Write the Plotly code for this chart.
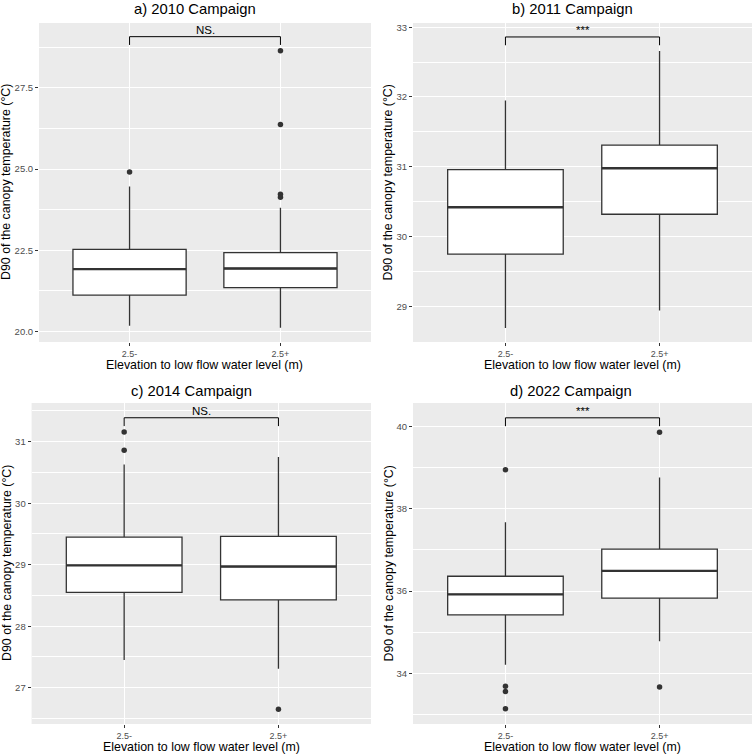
import plotly.graph_objects as go

# values
campaigns = ["a) 2010 Campaign", "b) 2011 Campaign", "c) 2014 Campaign", "d) 2022 Campaign"]
groups = ["2.5-", "2.5+"]

lower_whisker = [[20.18, 20.12], [28.69, 28.94], [27.45, 27.31], [34.21, 34.78]]
q1 = [[21.12, 21.35], [29.75, 30.32], [28.55, 28.43], [35.42, 35.83]]
median = [[21.92, 21.94], [30.42, 30.98], [28.99, 28.97], [35.92, 36.49]]
q3 = [[22.53, 22.43], [30.96, 31.31], [29.45, 29.46], [36.36, 37.02]]
upper_whisker = [[24.46, 23.81], [31.95, 32.66], [30.63, 30.75], [37.67, 38.76]]

outliers = [
    [[24.91], [28.64, 26.37, 24.22, 24.13]],
    [[], []],
    [[31.16, 30.86], [26.65]],
    [[38.95, 33.69, 33.56, 33.14], [39.86, 33.67]],
]

signif = ["NS.", "***", "NS.", "***"]
bracket_y = [29.07, 32.86, 31.39, 40.21]

y_ranges = [[19.68, 29.49], [28.49, 33.06], [26.41, 31.63], [32.77, 40.57]]
y_dtick = [2.5, 1, 1, 2]
y_fmt = [".1f", "d", "d", "d"]

ytitle = "D90 of the canopy temperature (°C)"
xtitle = "Elevation to low flow water level (m)"

#####################

W, H = 753, 754
FONT = "Liberation Sans, Arial, sans-serif"
DARK = "#333333"

# panel boxes in pixels: x0, x1, y0(top), y1(bottom)
panels = [(39, 371, 23, 342), (413, 752, 23, 342), (31.6, 371, 403, 724), (413, 752, 403, 724)]
title_pos = [(195, 8.5), (572, 8.5), (191, 390.5), (571, 390.5)]
ytitle_x = [6.5, 388, 6.5, 388]
xtitle_y = [365, 365, 746.5, 746.5]

def px(x):
    return x / W

def py(y):
    return 1 - y / H

fig = go.Figure()
annotations = []
cats = [1, 2]
bw = 0.75

for i in range(4):
    n = i + 1
    xa = "x" if n == 1 else "x%d" % n
    ya = "y" if n == 1 else "y%d" % n
    x0, x1, t0, t1 = panels[i]

    for j, c in enumerate(cats):
        fig.add_trace(go.Box(
            x=[c], q1=[q1[i][j]], median=[median[i][j]], q3=[q3[i][j]],
            lowerfence=[lower_whisker[i][j]], upperfence=[upper_whisker[i][j]],
            width=bw, whiskerwidth=0, fillcolor="white", line=dict(color=DARK, width=1.3),
            boxpoints=False, showlegend=False, xaxis=xa, yaxis=ya))
        # thicker median like ggplot
        fig.add_trace(go.Scatter(
            x=[c - bw / 2, c + bw / 2], y=[median[i][j], median[i][j]], mode="lines",
            line=dict(color=DARK, width=2.4), showlegend=False, hoverinfo="skip",
            xaxis=xa, yaxis=ya))
        if outliers[i][j]:
            fig.add_trace(go.Scatter(
                x=[c] * len(outliers[i][j]), y=outliers[i][j], mode="markers",
                marker=dict(color=DARK, size=5.5), showlegend=False,
                xaxis=xa, yaxis=ya))

    # significance bracket
    span = y_ranges[i][1] - y_ranges[i][0]
    tip = bracket_y[i] - 0.026 * span
    fig.add_trace(go.Scatter(
        x=[cats[0], cats[0], cats[1], cats[1]], y=[tip, bracket_y[i], bracket_y[i], tip],
        mode="lines", line=dict(color="black", width=1), showlegend=False,
        hoverinfo="skip", xaxis=xa, yaxis=ya))
    annotations.append(dict(
        x=1.5, y=bracket_y[i], xref=xa, yref=ya, text=signif[i], showarrow=False,
        yanchor="bottom", yshift=-1, font=dict(family=FONT, size=11.5, color="black")))

    fig.update_layout(**{
        ("xaxis" if n == 1 else "xaxis%d" % n): dict(
            domain=[px(x0), px(x1)], anchor=ya, range=[0.4, 2.6],
            tickmode="array", tickvals=cats, ticktext=groups,
            ticks="outside", ticklen=3, tickcolor=DARK, tickwidth=1,
            tickfont=dict(family=FONT, size=9, color="#4D4D4D"),
            showgrid=True, gridcolor="white", gridwidth=1.1, zeroline=False,
            showline=False, fixedrange=True),
        ("yaxis" if n == 1 else "yaxis%d" % n): dict(
            domain=[py(t1), py(t0)], anchor=xa, range=y_ranges[i],
            tickmode="linear", tick0=0, dtick=y_dtick[i], tickformat=y_fmt[i],
            ticks="outside", ticklen=3, tickcolor=DARK, tickwidth=1,
            tickfont=dict(family=FONT, size=9.5, color="#4D4D4D"),
            showgrid=True, gridcolor="white", gridwidth=1.1, zeroline=False,
            minor=dict(dtick=y_dtick[i] / 2, showgrid=True, gridcolor="white",
                       gridwidth=0.5, ticks=""),
            showline=False, fixedrange=True),
    })

    # panel titles and axis titles
    annotations.append(dict(
        x=px(title_pos[i][0]), y=py(title_pos[i][1]), xref="paper", yref="paper",
        text=campaigns[i], showarrow=False, xanchor="center", yanchor="middle",
        font=dict(family=FONT, size=14.8, color="black")))
    annotations.append(dict(
        x=px((x0 + x1) / 2), y=py(xtitle_y[i]), xref="paper", yref="paper",
        text=xtitle, showarrow=False, xanchor="center", yanchor="middle", borderpad=0,
        font=dict(family=FONT, size=12.4, color="black")))
    annotations.append(dict(
        x=px(ytitle_x[i]), y=py((t0 + t1) / 2), xref="paper", yref="paper",
        text=ytitle, showarrow=False, textangle=-90, xanchor="center", yanchor="middle",
        borderpad=0, font=dict(family=FONT, size=12.4, color="black")))

# grey panel backgrounds
shapes = []
for (x0, x1, t0, t1) in panels:
    shapes.append(dict(type="rect", xref="paper", yref="paper", x0=px(x0), x1=px(x1),
                       y0=py(t1), y1=py(t0), fillcolor="#EBEBEB", line=dict(width=0),
                       layer="below"))

fig.update_layout(
    width=W, height=H, margin=dict(l=0, r=0, t=0, b=0),
    paper_bgcolor="white", plot_bgcolor="rgba(0,0,0,0)",
    shapes=shapes, annotations=annotations, showlegend=False,
    font=dict(family=FONT),
)

# the page's default body margin would push the figure 8px off
fig.write_html("out.html", config={"displayModeBar": False},
               post_script="document.body.style.margin='0';document.body.style.overflow='hidden';")
